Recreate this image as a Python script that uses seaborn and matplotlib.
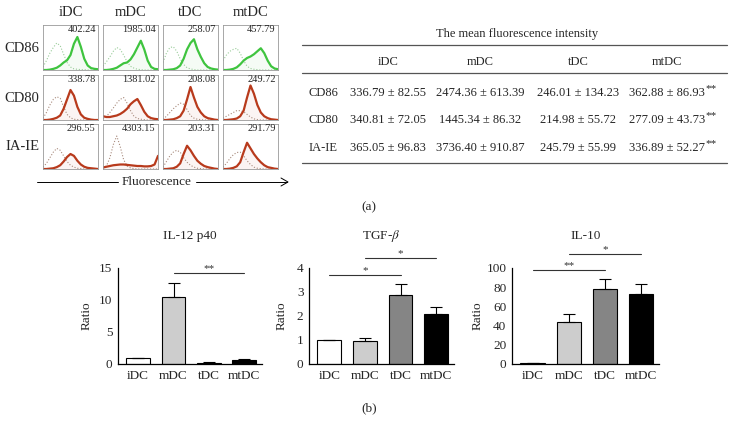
import matplotlib
matplotlib.use("Agg")
import matplotlib.pyplot as plt
from matplotlib.lines import Line2D
import numpy as np
import pandas as pd
import seaborn as sns

W, H = 739, 428

GROUPS = ["iDC", "mDC", "tDC", "mtDC"]
MARKERS = ["CD86", "CD80", "IA-IE"]

# MFI numbers printed in the histogram panels
PANEL_MFI = [
    ["402.24", "1985.04", "258.07", "457.79"],
    ["338.78", "1381.02", "208.08", "249.72"],
    ["296.55", "4303.15", "203.31", "291.79"],
]

# histogram shapes (17 bins each)
CD86_CTRL = [
    [0.08, 0.25, 0.45, 0.6, 0.72, 0.65, 0.42, 0.2, 0.08, 0.03, 0.02, 0.01, 0.01, 0, 0, 0, 0],
    [0.1, 0.22, 0.35, 0.5, 0.6, 0.55, 0.4, 0.22, 0.1, 0.05, 0.02, 0.01, 0, 0, 0, 0, 0],
    [0.2, 0.45, 0.6, 0.62, 0.5, 0.3, 0.15, 0.06, 0.03, 0.01, 0, 0, 0, 0, 0, 0, 0],
    [0.25, 0.4, 0.5, 0.55, 0.58, 0.45, 0.25, 0.1, 0.04, 0.02, 0.01, 0, 0, 0, 0, 0, 0],
]
CD86_SAMPLE = [
    [0, 0, 0.01, 0.03, 0.06, 0.12, 0.2, 0.26, 0.4, 0.7, 0.88, 0.62, 0.3, 0.12, 0.05, 0.03, 0.02],
    [0, 0, 0.01, 0.03, 0.06, 0.12, 0.18, 0.2, 0.28, 0.42, 0.6, 0.78, 0.55, 0.25, 0.08, 0.03, 0.02],
    [0, 0, 0.01, 0.02, 0.05, 0.12, 0.3, 0.55, 0.72, 0.82, 0.55, 0.35, 0.18, 0.08, 0.04, 0.02, 0.01],
    [0, 0, 0.01, 0.03, 0.07, 0.15, 0.25, 0.32, 0.36, 0.42, 0.5, 0.58, 0.45, 0.25, 0.1, 0.04, 0.02],
]
CD80_CTRL = [
    [0.05, 0.2, 0.4, 0.55, 0.62, 0.58, 0.35, 0.15, 0.06, 0.02, 0.01, 0, 0, 0, 0, 0, 0],
    [0.04, 0.1, 0.2, 0.32, 0.45, 0.55, 0.6, 0.45, 0.25, 0.1, 0.04, 0.02, 0.01, 0, 0, 0, 0],
    [0.02, 0.1, 0.2, 0.3, 0.38, 0.45, 0.42, 0.28, 0.12, 0.05, 0.02, 0.01, 0, 0, 0, 0, 0],
    [0.05, 0.1, 0.15, 0.2, 0.25, 0.25, 0.22, 0.15, 0.08, 0.03, 0.01, 0, 0, 0, 0, 0, 0],
]
CD80_SAMPLE = [
    [0, 0, 0.01, 0.03, 0.06, 0.12, 0.3, 0.55, 0.8, 0.65, 0.35, 0.15, 0.06, 0.03, 0.01, 0, 0],
    [0.1, 0.08, 0.08, 0.1, 0.12, 0.16, 0.22, 0.3, 0.42, 0.5, 0.56, 0.4, 0.22, 0.1, 0.05, 0.03, 0.02],
    [0, 0, 0.01, 0.02, 0.05, 0.1, 0.25, 0.55, 0.88, 0.6, 0.35, 0.2, 0.1, 0.05, 0.03, 0.01, 0],
    [0, 0, 0.01, 0.02, 0.04, 0.1, 0.25, 0.6, 0.92, 0.7, 0.4, 0.2, 0.1, 0.05, 0.02, 0.01, 0],
]
IAIE_CTRL = [
    [0.05, 0.15, 0.3, 0.45, 0.55, 0.5, 0.35, 0.2, 0.1, 0.05, 0.02, 0.01, 0, 0, 0, 0, 0],
    [0.02, 0.08, 0.3, 0.65, 0.88, 0.6, 0.25, 0.08, 0.03, 0.01, 0, 0, 0, 0, 0, 0, 0],
    [0.05, 0.2, 0.35, 0.45, 0.5, 0.45, 0.3, 0.18, 0.1, 0.05, 0.02, 0.01, 0, 0, 0, 0, 0],
    [0.05, 0.15, 0.28, 0.38, 0.44, 0.45, 0.35, 0.22, 0.12, 0.05, 0.02, 0.01, 0, 0, 0, 0, 0],
]
IAIE_SAMPLE = [
    [0, 0, 0.01, 0.02, 0.05, 0.1, 0.2, 0.32, 0.4, 0.35, 0.22, 0.12, 0.06, 0.03, 0.02, 0.01, 0],
    [0.04, 0.06, 0.08, 0.1, 0.11, 0.12, 0.12, 0.11, 0.1, 0.09, 0.08, 0.08, 0.07, 0.07, 0.08, 0.12, 0.35],
    [0, 0, 0.01, 0.02, 0.06, 0.15, 0.4, 0.62, 0.5, 0.35, 0.22, 0.14, 0.08, 0.05, 0.03, 0.01, 0],
    [0, 0, 0.01, 0.03, 0.07, 0.18, 0.45, 0.7, 0.55, 0.4, 0.28, 0.18, 0.1, 0.05, 0.03, 0.01, 0],
]

# table of mean fluorescence intensity
TABLE_ROWS = {
    "CD86": ["336.79 ± 82.55", "2474.36 ± 613.39", "246.01 ± 134.23", "362.88 ± 86.93"],
    "CD80": ["340.81 ± 72.05", "1445.34 ± 86.32", "214.98 ± 55.72", "277.09 ± 43.73"],
    "IA-IE": ["365.05 ± 96.83", "3736.40 ± 910.87", "245.79 ± 55.99", "336.89 ± 52.27"],
}

# cytokine ratios (b)
IL12_MEAN = [1.0, 10.5, 0.2, 0.65]
IL12_ERR = [0, 2.2, 0.05, 0.1]
TGF_MEAN = [1.0, 0.95, 2.88, 2.1]
TGF_ERR = [0, 0.12, 0.47, 0.29]
IL10_MEAN = [1.0, 44, 78, 73]
IL10_ERR = [0, 8, 11, 10]

BAR_COLORS = {"iDC": "white", "mDC": "#cdcdcd", "tDC": "#858585", "mtDC": "black"}

sns.set_style("white")
plt.rcParams["font.family"] = ["Liberation Serif", "DejaVu Serif"]
plt.rcParams["mathtext.fontset"] = "stix"


def box(l, t, w, h):
    return [l / W, 1 - (t + h) / H, w / W, h / H]


def fx(x):
    return x / W


def fy(y):
    return 1 - y / H


fig = plt.figure(figsize=(W / 100, H / 100), dpi=100)

# ---- (a) histograms ----
hist_rows = [(CD86_CTRL, CD86_SAMPLE, "#3fc43f", "#99cc99"),
             (CD80_CTRL, CD80_SAMPLE, "#b83a1c", "#a88a7c"),
             (IAIE_CTRL, IAIE_SAMPLE, "#b83a1c", "#a88a7c")]
tops = [25, 75, 124]
for r, (ctrl, samp, col, ccol) in enumerate(hist_rows):
    for c in range(4):
        ax = fig.add_axes(box(43 + 60 * c, tops[r], 55, 45))
        xs = np.arange(len(samp[c]))
        ax.fill_between(xs, samp[c], color=col, alpha=0.05, lw=0)
        sns.lineplot(x=xs, y=ctrl[c], ax=ax, color=ccol, lw=0.8, linestyle=":")
        sns.lineplot(x=xs, y=samp[c], ax=ax, color=col, lw=1.6)
        ax.set_xlim(0, 16)
        ax.set_ylim(0, 1.2)
        ax.set_xticks([])
        ax.set_yticks([])
        ax.set_xlabel("")
        ax.set_ylabel("")
        for s in ax.spines.values():
            s.set_color("#999999")
            s.set_linewidth(0.6)
        ax.text(0.96, 0.9, PANEL_MFI[r][c], transform=ax.transAxes,
                ha="right", va="center", fontsize=7.5)
    fig.text(fx(22), fy(tops[r] + 23), MARKERS[r], ha="center", va="center", fontsize=10.5)

for c, g in enumerate(GROUPS):
    fig.text(fx(43 + 60 * c + 27.5), fy(12), g, ha="center", va="center", fontsize=10.5)

# Fluorescence arrow
fig.text(fx(157), fy(182), "Fluorescence", ha="center", va="center", fontsize=9.5)
fig.add_artist(Line2D([fx(37), fx(118)], [fy(182), fy(182)], color="black", lw=0.7))
fig.add_artist(Line2D([fx(196), fx(287)], [fy(182), fy(182)], color="black", lw=0.7))
fig.add_artist(Line2D([fx(281), fx(288), fx(281)], [fy(178), fy(182), fy(186)], color="black", lw=0.7))

# ---- (a) table ----
fig.text(fx(517), fy(34), "The mean fluorescence intensity", ha="center", va="center", fontsize=9)
for y in [45, 73, 163]:
    fig.add_artist(Line2D([fx(302), fx(727)], [fy(y), fy(y)], color="#555555", lw=0.9))
col_x = [388, 480, 578, 667]
for g, x in zip(GROUPS, col_x):
    fig.text(fx(x), fy(62), g, ha="center", va="center", fontsize=9)
for i, (name, vals) in enumerate(TABLE_ROWS.items()):
    y = [93, 120, 148][i]
    fig.text(fx(323), fy(y), name, ha="center", va="center", fontsize=9)
    for v, x in zip(vals, col_x):
        fig.text(fx(x), fy(y), v, ha="center", va="center", fontsize=9)
    fig.text(fx(705), fy(y - 4), "**", ha="left", va="center", fontsize=8)

fig.text(fx(369), fy(207), "(a)", ha="center", va="center", fontsize=9.5)
fig.text(fx(369), fy(408), "(b)", ha="center", va="center", fontsize=9.5)

# ---- (b) bar charts ----
bar_panels = [
    ("IL-12 p40", IL12_MEAN, IL12_ERR, 118, 144, [0, 5, 10, 15], 87,
     [(1, 3, 14.2, "**")]),
    ("TGF-$\\beta$", TGF_MEAN, TGF_ERR, 309, 145, [0, 1, 2, 3, 4], 282,
     [(0, 2, 3.7, "*"), (1, 3, 4.43, "*")]),
    ("IL-10", IL10_MEAN, IL10_ERR, 512, 147, [0, 20, 40, 60, 80, 100], 478,
     [(0, 2, 98, "**"), (1, 3, 114.5, "*")]),
]
for title, means, errs, left, width, yt, ylab_x, sigs in bar_panels:
    ax = fig.add_axes(box(left, 268, width, 96))
    df = pd.DataFrame({"group": GROUPS, "value": means})
    sns.barplot(data=df, x="group", y="value", hue="group", palette=BAR_COLORS,
                edgecolor="black", linewidth=0.8, width=0.67, legend=False,
                errorbar=None, ax=ax)
    ax.errorbar(range(4), means, yerr=[np.zeros(4), errs], fmt="none",
                ecolor="black", elinewidth=0.8, capsize=4, capthick=0.8)
    ax.set_xlim(-0.57, 3.5)
    ax.set_ylim(0, yt[-1])
    ax.set_yticks(yt)
    ax.set_xticks(range(4))
    ax.set_xticklabels(GROUPS)
    ax.set_xticks([1.5], minor=True)
    ax.tick_params(axis="x", which="major", length=0, pad=4, labelsize=9.5)
    ax.tick_params(axis="x", which="minor", length=3, width=0.8, direction="out")
    ax.tick_params(axis="y", length=3, width=0.8, direction="out", pad=1, labelsize=9.5)
    ax.set_xlabel("")
    ax.set_ylabel("")
    sns.despine(ax=ax)
    for s in ["left", "bottom"]:
        ax.spines[s].set_linewidth(0.9)
        ax.spines[s].set_color("black")
    ax.set_title(title, fontsize=9.5, pad=21)
    fig.text(fx(ylab_x), fy(316), "Ratio", rotation=90, ha="center", va="center", fontsize=9.5)
    for x0, x1, y, star in sigs:
        ax.plot([x0, x1], [y, y], color="#333333", lw=0.8, clip_on=False)
        ax.text((x0 + x1) / 2, y, star, ha="center", va="bottom", fontsize=8, color="#333333")

fig.savefig("out.png", dpi=100)
